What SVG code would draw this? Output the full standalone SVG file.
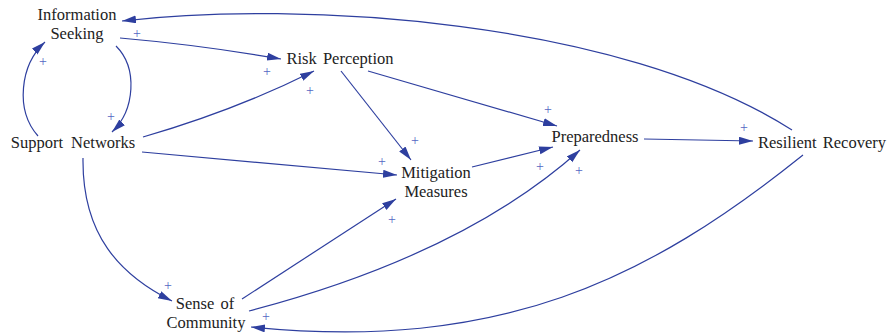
<svg xmlns="http://www.w3.org/2000/svg" width="892" height="335" viewBox="0 0 892 335">
  <style>
    .lbl { font-family: "Liberation Serif", "Times New Roman", serif; font-size: 16.5px; fill: #222; text-anchor: middle; }
    .edge { fill: none; stroke: #2e3f9f; stroke-width: 1.2; marker-end: url(#arrow); }
    .sign { font-family: "Liberation Serif", "Times New Roman", serif; font-size: 14px; fill: #5566c4; text-anchor: middle; dominant-baseline: central; }
  </style>
  <defs>
    <marker id="arrow" markerUnits="userSpaceOnUse" markerWidth="16" markerHeight="10" refX="14" refY="4" orient="auto">
      <path d="M0,0 L14,4 L0,8 Z" fill="#2e3f9f"/>
    </marker>
  </defs>
  <rect width="892" height="335" fill="#ffffff"/>

  <!-- causal links -->
  <g id="connectors">
    <path class="edge" d="M792,130 C620,20 300,0 122,21"/>
    <path class="edge" d="M120,38 Q200,45 281,59"/>
    <path class="edge" d="M38,136 C15,110 20,65 45,42"/>
    <path class="edge" d="M116,46 C138,68 135,110 112,132"/>
    <path class="edge" d="M143,137 Q236,110 314,71"/>
    <path class="edge" d="M142,152 L397,175"/>
    <path class="edge" d="M83,158 C82,235 120,275 172,301"/>
    <path class="edge" d="M341,71 L411,160"/>
    <path class="edge" d="M368,71 L557,126"/>
    <path class="edge" d="M472,167 L553,147"/>
    <path class="edge" d="M242,299 L396,199"/>
    <path class="edge" d="M249,311 Q463,255 580,150"/>
    <path class="edge" d="M644,139 L753,141"/>
    <path class="edge" d="M803,155 C647,280 500,352 251,327"/>
  </g>

  <!-- polarity signs -->
  <g id="polarities">
    <text class="sign" x="137" y="33">+</text>
    <text class="sign" x="267" y="71">+</text>
    <text class="sign" x="43" y="61">+</text>
    <text class="sign" x="111" y="116">+</text>
    <text class="sign" x="310" y="90">+</text>
    <text class="sign" x="382" y="161">+</text>
    <text class="sign" x="415" y="140">+</text>
    <text class="sign" x="548" y="109">+</text>
    <text class="sign" x="540" y="166">+</text>
    <text class="sign" x="579" y="170">+</text>
    <text class="sign" x="392" y="219">+</text>
    <text class="sign" x="168" y="285">+</text>
    <text class="sign" x="266" y="316">+</text>
    <text class="sign" x="744" y="127">+</text>
  </g>

  <g id="information-seeking">
    <text class="lbl" x="77" y="20">Information</text>
    <text class="lbl" x="77" y="39">Seeking</text>
  </g>
  <g id="risk-perception">
    <text class="lbl" x="340" y="64" word-spacing="2">Risk Perception</text>
  </g>
  <g id="support-networks">
    <text class="lbl" x="73" y="148" word-spacing="4">Support Networks</text>
  </g>
  <g id="mitigation-measures">
    <text class="lbl" x="436" y="178">Mitigation</text>
    <text class="lbl" x="436" y="197">Measures</text>
  </g>
  <g id="preparedness">
    <text class="lbl" x="595" y="142">Preparedness</text>
  </g>
  <g id="resilient-recovery">
    <text class="lbl" x="822" y="148" word-spacing="2">Resilient Recovery</text>
  </g>
  <g id="sense-of-community">
    <text class="lbl" x="205" y="309" word-spacing="2">Sense of</text>
    <text class="lbl" x="206" y="328">Community</text>
  </g>
</svg>
